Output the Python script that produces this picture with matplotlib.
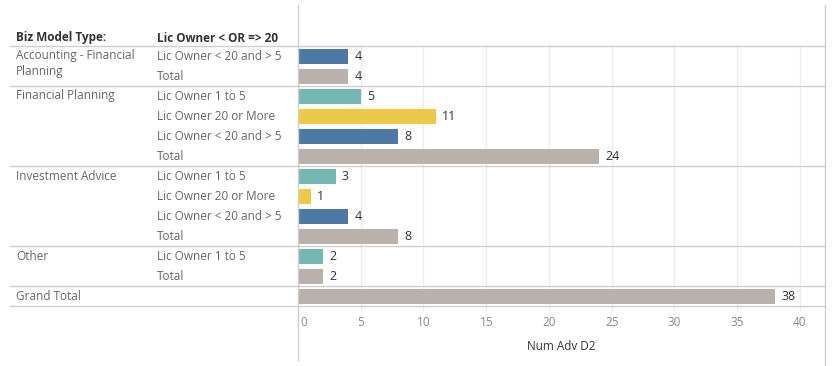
import matplotlib.pyplot as plt
import matplotlib.transforms as mtransforms

plt.rcParams['font.family'] = ['Open Sans', 'DejaVu Sans']

# data
biz_types = ['Accounting - Financial\nPlanning', 'Financial Planning', 'Investment Advice', 'Other', 'Grand Total']
row_biz = [0, 0, 1, 1, 1, 1, 2, 2, 2, 2, 3, 3, 4]
row_labels = ['Lic Owner < 20 and > 5', 'Total',
              'Lic Owner 1 to 5', 'Lic Owner 20 or More', 'Lic Owner < 20 and > 5', 'Total',
              'Lic Owner 1 to 5', 'Lic Owner 20 or More', 'Lic Owner < 20 and > 5', 'Total',
              'Lic Owner 1 to 5', 'Total',
              '']
values = [4, 4, 5, 11, 8, 24, 3, 1, 4, 8, 2, 2, 38]
xticks = [0, 5, 10, 15, 20, 25, 30, 35, 40]

color_map = {
    'Lic Owner < 20 and > 5': '#4E79A7',
    'Lic Owner 1 to 5': '#76B7B2',
    'Lic Owner 20 or More': '#EDC948',
    'Total': '#BAB0AC',
    '': '#BAB0AC',
}

W, H = 833, 366
fs = 8.5
fig = plt.figure(figsize=(W / 100, H / 100), dpi=100)

x0, x1 = 298, 825   # plot area in pixels
y_top, y_bot = 46, 306
ax = fig.add_axes([x0 / W, 1 - y_bot / H, (x1 - x0) / W, (y_bot - y_top) / H])

n = len(values)
ys = list(range(n))
ax.barh(ys, values, height=0.75, color=[color_map[l] for l in row_labels], zorder=2)
for y, v in zip(ys, values):
    ax.text(v + 0.5, y + 0.03, str(v), va='center', ha='left', fontsize=9, color='#333333')

ax.set_xlim(0, 42)
ax.set_ylim(n - 0.5, -0.5)
ax.set_yticks([])
ax.set_xticks([])
for s in ax.spines.values():
    s.set_visible(False)

# vertical gridlines
for t in xticks[1:]:
    ax.plot([t, t], [-0.5, n - 0.3], color='#ececec', lw=1, zorder=1, clip_on=False)

# tick labels below
trans_xfig = mtransforms.blended_transform_factory(ax.transData, fig.transFigure)
for t in xticks:
    ax.text(t + (0.15 if t == 0 else 0), 1 - 322 / H, str(t), transform=trans_xfig,
            ha='left' if t == 0 else 'center', va='center', fontsize=fs, color='#888888')
fig.text(((x0 + x1) / 2) / W, 1 - 347 / H, 'Num Adv D2', ha='center', va='center',
         fontsize=fs, color='#333333')

# frame lines (figure coords)
def hline(ypx, xa=10, xb=x1, c='#cfcfcf'):
    fig.add_artist(plt.Line2D([xa / W, xb / W], [1 - ypx / H, 1 - ypx / H], color=c, lw=1))

def vline(xpx, ya, yb, c='#cfcfcf'):
    fig.add_artist(plt.Line2D([xpx / W, xpx / W], [1 - ya / H, 1 - yb / H], color=c, lw=1))

for ypx in [46, 86, 166, 246, 286, 306]:
    hline(ypx)
vline(x0, 5, 360)
vline(x1, 5, 366)

# header
fig.text(16 / W, 1 - 38 / H, 'Biz Model Type:', ha='left', va='center', fontsize=fs,
         fontweight='bold', color='#333333')
fig.text(157 / W, 1 - 38 / H, 'Lic Owner < OR => 20', ha='left', va='center', fontsize=fs,
         fontweight='bold', color='#333333')

# row labels
trans_yfig = mtransforms.blended_transform_factory(fig.transFigure, ax.transData)
seen = set()
for y, b, lab in zip(ys, row_biz, row_labels):
    if b not in seen:
        seen.add(b)
        lines = biz_types[b].split('\n')
        for k, line in enumerate(lines):
            ax.text(16 / W, y + k * 0.8, line, transform=trans_yfig, ha='left', va='center',
                    fontsize=fs, color='#666666')
    if lab:
        ax.text(157 / W, y + 0.03, lab, transform=trans_yfig, ha='left', va='center', fontsize=fs, color='#666666')

fig.savefig('out.png', dpi=100)
